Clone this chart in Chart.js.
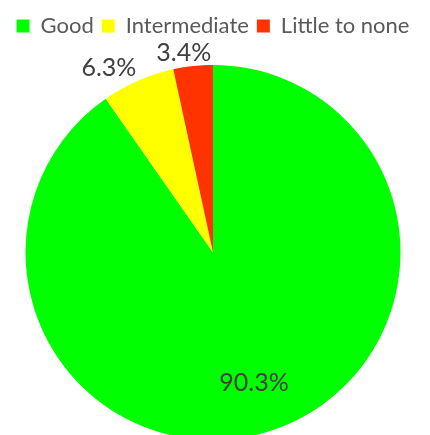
<!DOCTYPE html>
<html>
<head>
<meta charset="utf-8">
<script src="https://cdn.jsdelivr.net/npm/chart.js@4.4.1/dist/chart.umd.min.js"></script>
<style>
  html, body { margin: 0; padding: 0; background: #fff; overflow: hidden; }
  #wrap { position: relative; width: 430px; height: 440px; }
</style>
</head>
<body>
<div id="wrap"><canvas id="pieChart"></canvas></div>
<script>
// Share of responses per category
const categories = ['Good', 'Intermediate', 'Little to none'];
const shares = [90.3, 6.3, 3.4];
const sliceColors = ['#00FF00', '#FFFF00', '#FF3300'];

const TEXT_DARK = '#404040';
const LEGEND_TEXT = '#595959';
const FONT = 'Lato';

// push the pie down a bit under the legend
const legendMargin = {
  id: 'legendMargin',
  beforeInit(chart) {
    const fit = chart.legend.fit;
    chart.legend.fit = function () {
      fit.bind(chart.legend)();
      this.height += 18;
    };
  }
};

const clamp = (v) => Math.max(-1, Math.min(1, v));

// percentage labels: big slice inside, thin slices just outside the rim
const sliceLabels = {
  id: 'sliceLabels',
  afterDatasetsDraw(chart) {
    const ctx = chart.ctx;
    const meta = chart.getDatasetMeta(0);
    ctx.save();
    ctx.font = '25px ' + FONT;
    ctx.fillStyle = TEXT_DARK;
    ctx.textAlign = 'center';
    ctx.textBaseline = 'middle';
    meta.data.forEach((arc, i) => {
      const { x, y, startAngle, endAngle, outerRadius } = arc.getProps(['x', 'y', 'startAngle', 'endAngle', 'outerRadius'], true);
      const mid = (startAngle + endAngle) / 2;
      const cos = Math.cos(mid);
      const sin = Math.sin(mid);
      const text = shares[i].toFixed(1) + '%';
      if (shares[i] > 50) {
        const r = outerRadius * 0.73;
        ctx.fillText(text, x + cos * r, y + sin * r);
      } else {
        // hang the label off the rim, corner towards the slice
        const w = ctx.measureText(text).width;
        const h = 19;
        const ax = x + cos * (outerRadius + 4);
        const ay = y + sin * (outerRadius + 4);
        ctx.fillText(text, ax + clamp(cos * 3) * w / 2, ay + clamp(sin * 3) * h / 2);
      }
    });
    ctx.restore();
  }
};

new Chart(document.getElementById('pieChart'), {
  type: 'pie',
  data: {
    labels: categories,
    datasets: [{
      data: shares,
      backgroundColor: sliceColors,
      borderWidth: 0,
      hoverOffset: 0
    }]
  },
  options: {
    responsive: true,
    maintainAspectRatio: false,
    animation: false,
    layout: { padding: { top: 7, left: 0, right: 4, bottom: 0 } },
    plugins: {
      legend: {
        position: 'top',
        labels: {
          color: LEGEND_TEXT,
          font: { family: FONT, size: 22 },
          boxWidth: 13,
          boxHeight: 13,
          padding: 8
        }
      },
      tooltip: { enabled: false }
    }
  },
  plugins: [legendMargin, sliceLabels]
});
</script>
</body>
</html>
